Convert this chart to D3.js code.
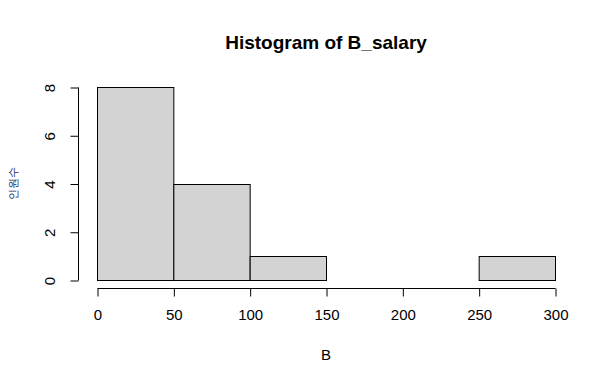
<!DOCTYPE html>
<html><head><meta charset="utf-8">
<script src="https://cdn.jsdelivr.net/npm/d3@7"></script>
<style>body{margin:0;background:#fff}svg{display:block}text{font-family:"Liberation Sans",Arial,sans-serif}</style>
</head><body>
<script>
const binStarts = [0, 50, 100, 150, 200, 250];
const binEnds = [50, 100, 150, 200, 250, 300];
const counts = [8, 4, 1, 0, 0, 1];
const xTicks = [0, 50, 100, 150, 200, 250, 300];
const yTicks = [0, 2, 4, 6, 8];
const title = "Histogram of B_salary";
const xLabel = "B";
const yLabel = "인원수";

const W = 614, H = 386;
const svg = d3.select("body").append("svg").attr("width", W).attr("height", H);
const x = d3.scaleLinear().domain([0, 300]).range([97, 555]);
const y = d3.scaleLinear().domain([0, 8]).range([280, 87]);

// bars
const bins = binStarts.map((s, i) => ({s, e: binEnds[i], c: counts[i]}));
svg.append("g").selectAll("rect").data(bins).join("rect")
  .attr("x", d => x(d.s) + 0.5)
  .attr("y", d => Math.round(y(d.c)) + 0.5)
  .attr("width", d => x(d.e) - x(d.s))
  .attr("height", d => Math.round(y(0)) - Math.round(y(d.c)))
  .attr("fill", "#d3d3d3").attr("stroke", "#000").attr("stroke-width", 1);

// x axis
const xAxis = svg.append("g").attr("transform", "translate(0.5,288.5)")
  .call(d3.axisBottom(x).tickValues(xTicks).tickSize(8).tickPadding(13).tickFormat(d3.format("d")).tickSizeOuter(0));
xAxis.select(".domain").attr("d", `M${x(0)},0H${x(300)}`).attr("stroke-width", 1);
xAxis.selectAll("text").attr("font-size", 15).attr("fill", "#000");

// y axis
const yAxis = svg.append("g").attr("transform", "translate(78.5,0.5)")
  .call(d3.axisLeft(y).tickValues(yTicks).tickSize(8).tickSizeOuter(0));
yAxis.select(".domain").attr("d", `M0,${y(0)}V${y(8)}`);
yAxis.selectAll(".tick text")
  .attr("x", 0).attr("dy", null).attr("text-anchor", "middle")
  .attr("transform", "translate(-29,0) rotate(-90)")
  .attr("dominant-baseline", "central")
  .attr("font-size", 15).attr("fill", "#000");

// title
svg.append("text").attr("x", 326).attr("y", 49).attr("text-anchor", "middle")
  .attr("font-weight", "bold").attr("font-size", 19).text(title);
// x label
svg.append("text").attr("x", 326).attr("y", 360).attr("text-anchor", "middle")
  .attr("font-size", 15).text(xLabel);
// y label
svg.append("text").attr("transform", "translate(17,183) rotate(-90)").attr("text-anchor", "middle")
  .attr("font-family", "'Noto Sans CJK KR',sans-serif")
  .attr("font-size", 10.5).attr("fill", "#1c2b5e").text(yLabel);
</script>
</body></html>
